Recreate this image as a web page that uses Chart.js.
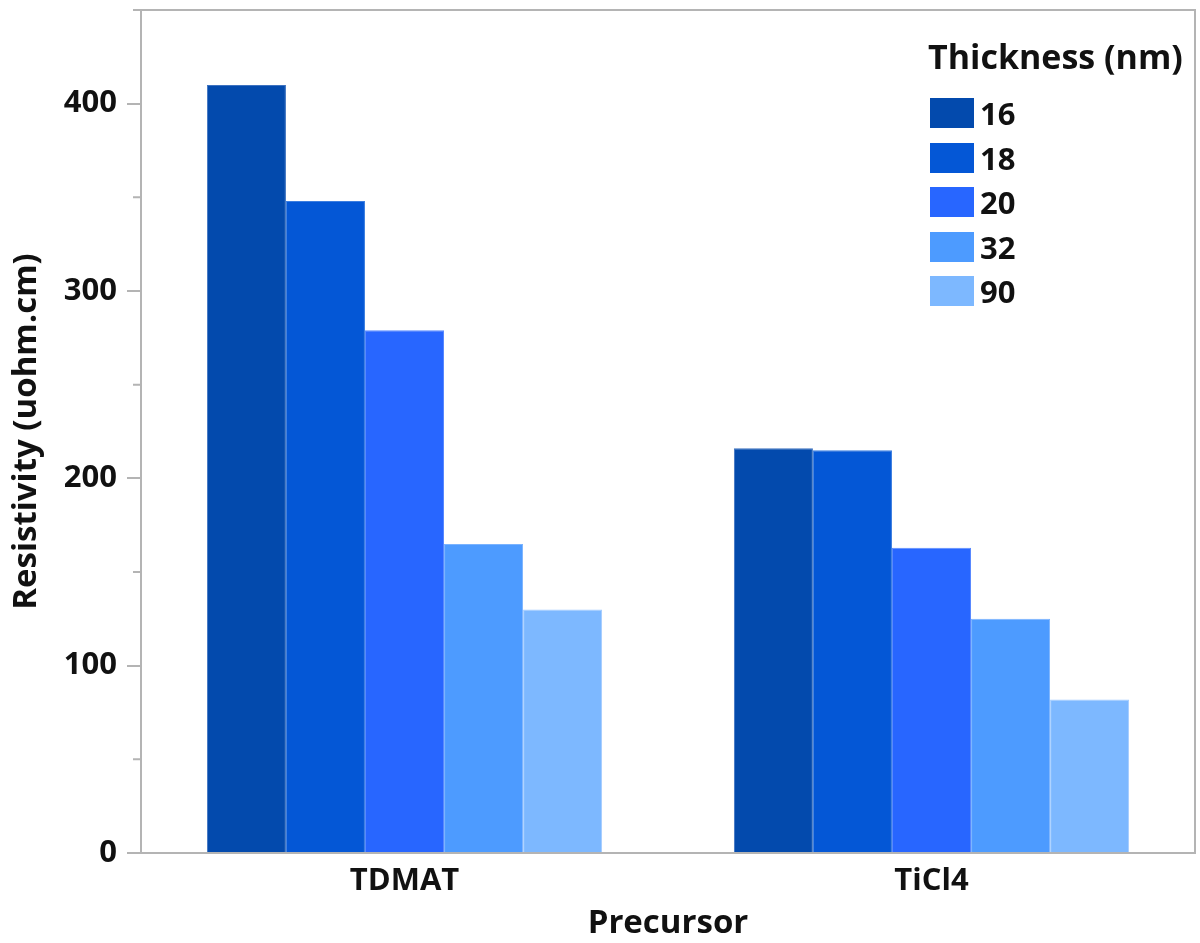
<!DOCTYPE html>
<html>
<head>
<meta charset="utf-8">
<title>Resistivity by precursor</title>
<script src="https://cdn.jsdelivr.net/npm/chart.js@4.4.1/dist/chart.umd.min.js"></script>
<style>
    html, body { margin: 0; padding: 0; background: #fff; }
    #wrap { position: relative; width: 1200px; height: 943px; }
    #legend {
        position: absolute; left: 928px; top: 36px;
        font-family: "Open Sans", sans-serif; font-weight: bold; color: #111;
    }
    #legend .title { font-size: 34px; line-height: 40px; margin-bottom: 15px; white-space: nowrap; }
    #legend .row { display: flex; align-items: center; height: 44.5px; }
    #legend .box { width: 44px; height: 30px; margin-left: 2px; margin-right: 6px; }
    #legend .lbl { font-size: 31px; }
</style>
</head>
<body>
<div id="wrap">
    <canvas id="bar-chart" width="1200" height="943"></canvas>
    <div id="legend"></div>
</div>
<script>
// data
const precursors = ["TDMAT", "TiCl4"];
const thicknesses = ["16", "18", "20", "32", "90"];
const resistivity16 = [410, 216];
const resistivity18 = [348, 215];
const resistivity20 = [279, 163];
const resistivity32 = [165, 125];
const resistivity90 = [130, 82];
const yTicks = [0, 100, 200, 300, 400];
const yMinorTicks = [50, 150, 250, 350];

const barColors = ["#034aad", "#0457d6", "#2866ff", "#4d9bff", "#7db8ff"];
const edgeColors = ["#3d72c0", "#3c7ee0", "#5a8aff", "#7ab3ff", "#a3ccff"];
const axisGray = "#b4b4b4";
const font = "Open Sans";

class BarChartManager {
    static buildLegend() {
        const el = document.getElementById("legend");
        let html = '<div class="title">Thickness (nm)</div>';
        thicknesses.forEach((t, i) => {
            html += '<div class="row"><span class="box" style="background:' + barColors[i] +
                '"></span><span class="lbl">' + t + '</span></div>';
        });
        el.innerHTML = html;
    }

    static initBarChart() {
        const ctx = document.getElementById("bar-chart")?.getContext("2d");
        if (!ctx) {
            console.error("Bar chart canvas element not found");
            return;
        }

        const series = [resistivity16, resistivity18, resistivity20, resistivity32, resistivity90];

        // frame round the plot + the short minor ticks on the y axis
        const framePlugin = {
            id: "frame",
            afterDraw(chart) {
                const c = chart.ctx;
                const a = chart.chartArea;
                const y = chart.scales.y;
                c.save();
                c.strokeStyle = axisGray;
                c.lineWidth = 2;
                c.strokeRect(a.left, a.top, a.right - a.left, a.bottom - a.top);
                c.beginPath();
                c.moveTo(a.left - 8, a.top);
                c.lineTo(a.left, a.top);
                yMinorTicks.forEach(v => {
                    const py = y.getPixelForValue(v);
                    c.moveTo(a.left - 8, py);
                    c.lineTo(a.left, py);
                });
                c.stroke();
                c.restore();
            }
        };

        return new Chart(ctx, {
            type: "bar",
            data: {
                labels: precursors,
                datasets: thicknesses.map((t, i) => ({
                    label: t,
                    data: series[i],
                    backgroundColor: barColors[i],
                    borderColor: edgeColors[i],
                    borderWidth: 1,
                    categoryPercentage: 0.75,
                    barPercentage: 1.0,
                })),
            },
            options: {
                responsive: false,
                animation: false,
                layout: { padding: { top: 10, right: 5, left: 0, bottom: 0 } },
                plugins: {
                    legend: { display: false },
                    tooltip: { enabled: false }
                },
                scales: {
                    y: {
                        min: 0,
                        max: 450,
                        afterBuildTicks: (scale) => {
                            scale.ticks = yTicks.map(v => ({ value: v }));
                        },
                        afterFit: (scale) => {
                            scale.width = 141;
                            scale.paddingTop = 0;
                            scale.paddingBottom = 0;
                        },
                        border: { display: true, color: axisGray, width: 2 },
                        grid: {
                            drawOnChartArea: false,
                            drawTicks: true,
                            tickLength: 14,
                            color: axisGray,
                            lineWidth: 2
                        },
                        ticks: {
                            padding: 10,
                            color: "#111",
                            font: { size: 31, family: font, weight: "bold" }
                        },
                        title: {
                            display: true,
                            text: "Resistivity (uohm.cm)",
                            color: "#111",
                            padding: { top: 7, bottom: 0 },
                            font: { size: 33, family: font, weight: "bold" }
                        }
                    },
                    x: {
                        afterFit: (scale) => { scale.height = 90; },
                        border: { display: true, color: axisGray, width: 2 },
                        grid: { display: false },
                        ticks: {
                            padding: 2,
                            color: "#111",
                            font: { size: 31, family: font, weight: "bold" }
                        },
                        title: {
                            display: true,
                            text: "Precursor",
                            color: "#111",
                            padding: { top: 4, bottom: 0 },
                            font: { size: 33, family: font, weight: "bold" }
                        }
                    }
                }
            },
            plugins: [framePlugin]
        });
    }
}

document.addEventListener("DOMContentLoaded", () => {
    BarChartManager.buildLegend();
    BarChartManager.initBarChart();
});
</script>
</body>
</html>
